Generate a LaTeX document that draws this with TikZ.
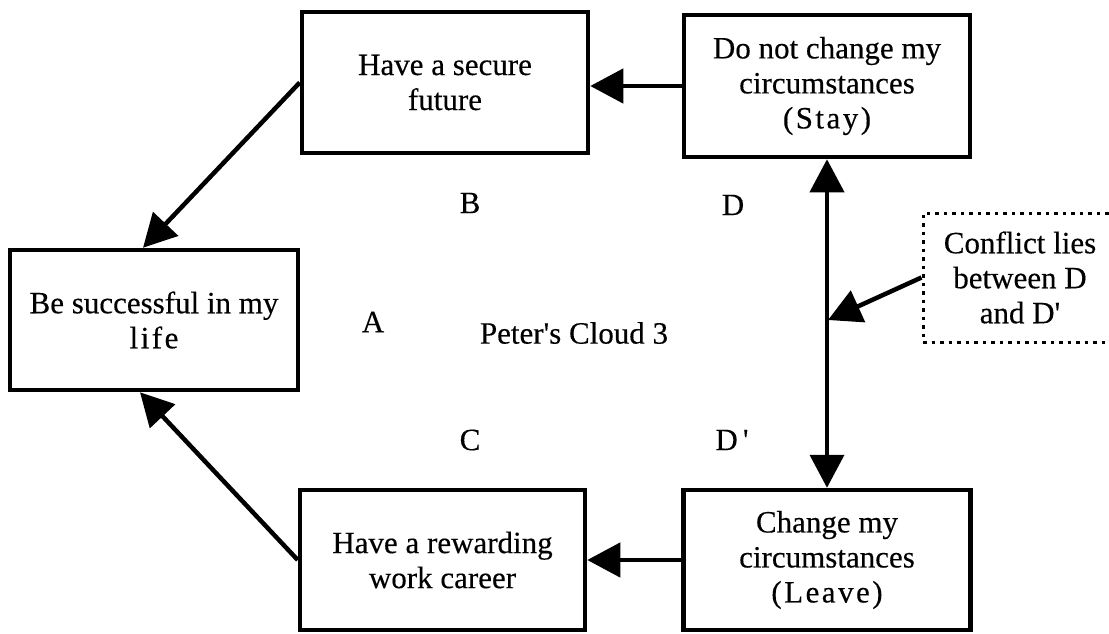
\documentclass[tikz,border=0pt]{standalone}
\usepackage{fontspec}
\setmainfont{Liberation Serif}[FakeBold=0.3]
\usetikzlibrary{arrows.meta}
\newcommand{\spaced}[1]{{\addfontfeature{LetterSpace=8}#1}}
\begin{document}
\begin{tikzpicture}[x=1pt,y=-1pt,
  txt/.style={font=\fontsize{31}{35}\selectfont},
  box/.style={txt, draw, line width=4.5pt, align=center, inner sep=0pt,
              minimum width=286pt, minimum height=141pt},
  lbl/.style={txt, inner sep=0pt},
  note/.style={txt, draw, line width=3pt, dash pattern=on 3.5pt off 5pt,
               align=center, inner sep=0pt, minimum width=194pt, minimum height=129pt},
  head/.tip={Triangle[length=33pt,width=34pt]},
  link/.style={line width=4.5pt, -head},
  bothway/.style={line width=4pt, head-head}
]
\useasboundingbox (0,0) rectangle (1109,633);
\fill[white] (0,0) rectangle (1109,633);
\clip (0,0) rectangle (1109,633);

% boxes of the cloud
\node[box, minimum width=288pt, minimum height=140pt] (A) at (154,320)
  {Be successful in my\\\spaced{life}};
\node[box] (B) at (445,82.5) {Have a secure\\future};
\node[box, minimum height=142pt] (D) at (827,86)
  {Do not change my\\circumstances\\\spaced{(Stay)}};
\node[box, minimum width=285pt, minimum height=140pt] (C) at (442.5,560)
  {Have a rewarding\\work career};
\node[box, minimum width=287pt, minimum height=140pt] (Dp) at (827,560)
  {Change my\\circumstances\\\spaced{(Leave)}};

% conflict note
\node[note] (N) at (1020,277.5) {Conflict lies\\between D\\and D\textquotesingle};

% letters and title
\node[lbl] (la) at (373,322) {A};
\node[lbl] (lb) at (470,203) {B};
\node[lbl] (ld) at (733,205) {D};
\node[lbl] (lc) at (470,440) {C};
\node[lbl] (ldp) at (732,440) {D\,\textquotesingle};
\node[lbl] (title) at (574,333) {Peter\textquotesingle s Cloud 3};

% connectors
\draw[link] (D.west) -- (D.west -| B.east);
\draw[link] (Dp.west) -- (Dp.west -| C.east);
\draw[link] (B.west) -- ([xshift=-11pt]A.north);
\draw[link] (C.west) -- ([xshift=-14pt]A.south);
\draw[bothway] (D.south) -- (Dp.north);
\coordinate (hit) at (828,320);
\draw[link] (N.west) -- (hit);
\end{tikzpicture}
\end{document}
